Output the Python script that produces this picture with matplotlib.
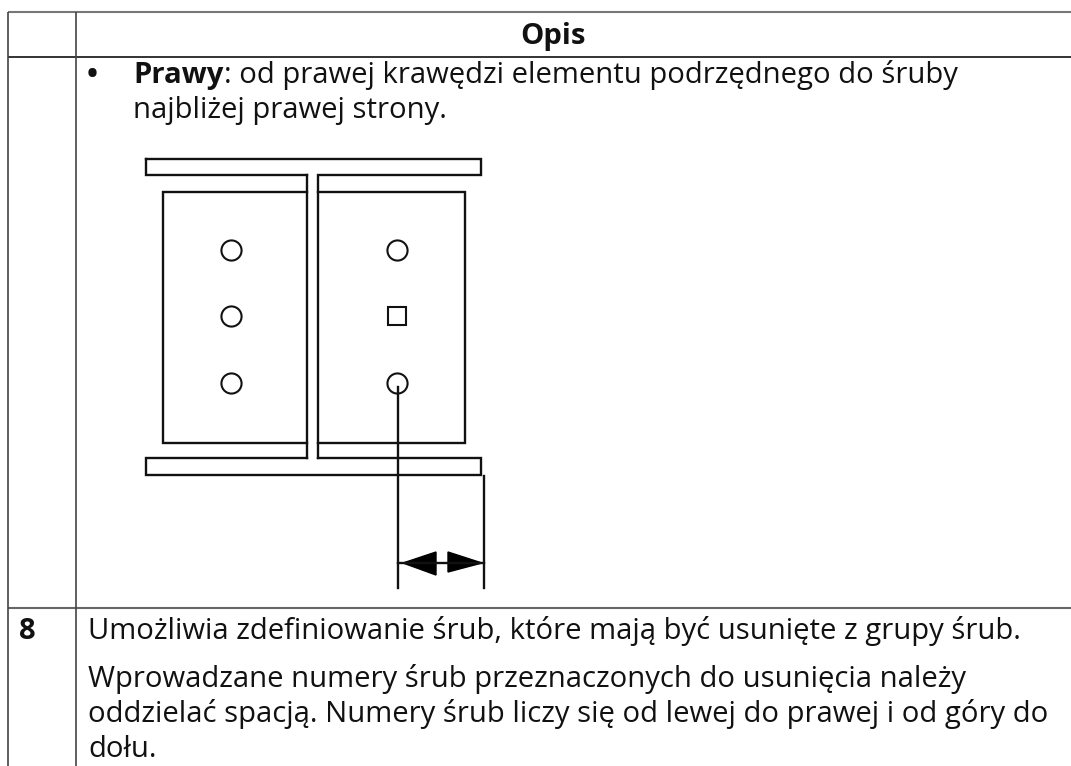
import matplotlib
matplotlib.use("Agg")
import matplotlib.pyplot as plt

W, H = 1071, 766
INK = "#111111"

# table grid, pixel positions
table_left, col_x, table_right = 8, 76, 1071
table_top, table_bottom = 12, 766
rules = [(12, "#777777", 1.5), (57, "#111111", 1.2), (608, "#666666", 1.5)]

# drawing outline
flange_top_x = [146, 481, 481, 318, 318]
flange_top_y = [159, 159, 175, 175, 458]
flange_top_left_x = [307, 146, 146]
flange_top_left_y = [175, 175, 159]
web_left_x = [307, 307]
web_left_y = [175, 458]
plate_left_x = [307, 163, 163, 307]
plate_left_y = [192, 192, 443, 443]
plate_right_x = [318, 465, 465, 318]
plate_right_y = [192, 192, 443, 443]
flange_bot_x = [307, 146, 146, 481, 481, 318]
flange_bot_y = [458, 458, 475, 475, 458, 458]
bolt_line_x = [398, 398]
bolt_line_y = [387, 588]
ext_line_x = [484, 484]
ext_line_y = [476, 588]
dim_x = [398, 484]
dim_y = [563, 563]

hole_x = [231, 397]
hole_y = [250, 316, 383]

arrow_left_x = [403, 436, 436]
arrow_left_y = [563, 552, 575]
arrow_right_x = [482, 448, 448]
arrow_right_y = [563, 552, 572]

plt.rcParams["font.family"] = ["Open Sans", "Noto Sans", "DejaVu Sans"]
fig = plt.figure(figsize=(W / 100, H / 100), dpi=100)
ax = fig.add_axes([0, 0, 1, 1])
ax.set_xlim(0, W)
ax.set_ylim(H, 0)
ax.axis("off")

for y, c, lw in rules:
    ax.plot([table_left, table_right], [y, y], color=c, lw=lw, solid_capstyle="butt")
for x in (table_left, col_x):
    ax.plot([x, x], [table_top, table_bottom], color="#444444", lw=1.2, solid_capstyle="butt")

outline = [
    (flange_top_x, flange_top_y), (flange_top_left_x, flange_top_left_y),
    (web_left_x, web_left_y), (plate_left_x, plate_left_y),
    (plate_right_x, plate_right_y), (flange_bot_x, flange_bot_y),
    (bolt_line_x, bolt_line_y), (ext_line_x, ext_line_y), (dim_x, dim_y),
]
for xs, ys in outline:
    ax.plot(xs, ys, color=INK, lw=1.7, solid_joinstyle="miter")

for x in hole_x:
    for y in hole_y:
        # the middle right hole is drawn square-ish in the reference
        marker = "s" if (x, y) == (397, 316) else "o"
        size = 13 if marker == "s" else 14.5
        ax.plot(x, y, marker, ms=size, mfc="none", mec=INK, mew=1.5)

ax.fill(arrow_left_x, arrow_left_y, color="black")
ax.fill(arrow_right_x, arrow_right_y, color="black")

FS = 21.1
TC = "#111111"
kw = dict(fontsize=FS, color=TC, va="baseline")
ax.text(553, 44, "Opis", fontweight="bold", ha="center", **kw)
ax.text(87, 83, "•", fontweight="bold", **kw)
bold = ax.text(133, 83, "Prawy", fontweight="bold", **kw)
fig.canvas.draw()
bold_end = bold.get_window_extent().x1
ax.text(bold_end + 1, 83, ": od prawej krawędzi elementu podrzędnego do śruby", **kw)
ax.text(133, 118, "najbliżej prawej strony.", **kw)
ax.text(19, 639, "8", fontweight="bold", **kw)
ax.text(88, 639, "Umożliwia zdefiniowanie śrub, które mają być usunięte z grupy śrub.", **kw)
ax.text(88, 687, "Wprowadzane numery śrub przeznaczonych do usunięcia należy", **kw)
ax.text(88, 722, "oddzielać spacją. Numery śrub liczy się od lewej do prawej i od góry do", **kw)
ax.text(88, 757, "dołu.", **kw)

fig.savefig("out.png", dpi=100)
